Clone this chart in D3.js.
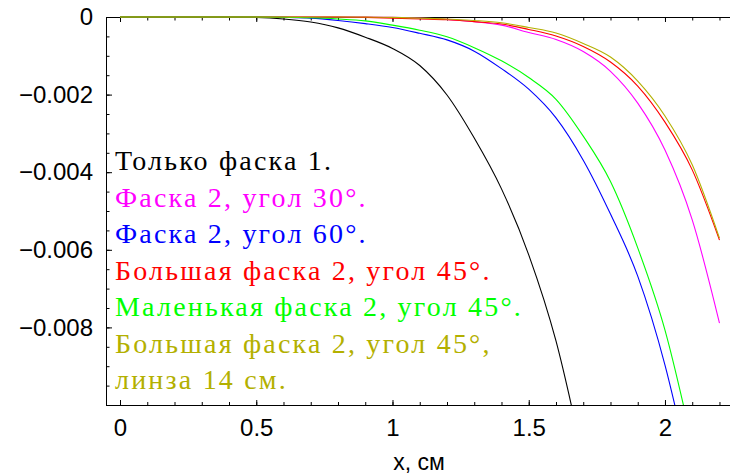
<!DOCTYPE html>
<html><head><meta charset="utf-8">
<script src="https://cdn.jsdelivr.net/npm/d3@7"></script>
<style>html,body{margin:0;padding:0;background:#fff;}svg{display:block;}
.legend text{font-family:"Liberation Serif","Tinos","Times New Roman",Times,"DejaVu Serif","Noto Serif",serif;}
</style>
</head><body>
<svg id="chart" width="730" height="475"></svg>
<script>
// ---- data ----
const xs = [0,0.1,0.2,0.3,0.4,0.5,0.6,0.7,0.8,0.9,1.0,1.1,1.2,1.3,1.4,1.5,1.6,1.7,1.8,1.9,2.0,2.1,2.2];
const only1     = [0,0,0,0,0,-0.00001,-0.00005,-0.00013,-0.00028,-0.00052,-0.00081,-0.00125,-0.00201,-0.00312,-0.00443,-0.00613,-0.00835,-0.0114,null,null,null,null,null];
const angle30   = [0,0,0,0,0,0,0,0,0,0,-0.00001,-0.00003,-0.00006,-0.00012,-0.00021,-0.0004,-0.00058,-0.00089,-0.0014,-0.00222,-0.00343,-0.00523,-0.00789];
const angle60   = [0,0,0,0,0,0,-0.00001,-0.00003,-0.00009,-0.00017,-0.00027,-0.00042,-0.00059,-0.00088,-0.00133,-0.00186,-0.0026,-0.00369,-0.00508,-0.00668,-0.00897,-0.012,null];
const big45     = [0,0,0,0,0,0,0,0,0,-0.00001,-0.00003,-0.00005,-0.00007,-0.00012,-0.00018,-0.00032,-0.00049,-0.00076,-0.00116,-0.00178,-0.00271,-0.00394,-0.00575];
const small45   = [0,0,0,0,0,0,-0.000005,-0.00002,-0.00005,-0.0001,-0.00021,-0.00034,-0.00051,-0.00079,-0.00113,-0.00156,-0.00212,-0.00307,-0.00424,-0.00595,-0.00807,-0.011,null];
const big45lens = [0,0,0,0,0,0,0,0,0,0,-0.00001,-0.00003,-0.00005,-0.00009,-0.00015,-0.00027,-0.00041,-0.00068,-0.00103,-0.00165,-0.00255,-0.00381,-0.0057];
const seriesValues = [only1, angle30, angle60, big45, small45, big45lens];
const legendLines = ["Только фаска 1.","Фаска 2, угол 30°.","Фаска 2, угол 60°.","Большая фаска 2, угол 45°.","Маленькая фаска 2, угол 45°.","Большая фаска 2, угол 45°,","линза 14 см."];
const legendSeries = [0,1,2,3,4,5,5];
const xTickLabels = [0,0.5,1,1.5,2];
const xMinorTicks = d3.range(0,23).map(i=>i/10);
const yTickLabels = [0,-0.002,-0.004,-0.006,-0.008];
const yMinorTicks = d3.range(0,21).map(i=>-i*0.0005);
const xTitle = "x, см";
// ---- styles ----
const colors = ["#000000","#ff00ff","#0000ff","#ff0000","#00ff00","#b3b000"];

const svg = d3.select("#chart");
const L=106, R=730, T=17, B=405;
const x = d3.scaleLinear().domain([-0.0514,2.2386]).range([L,R]);
const y = d3.scaleLinear().domain([-0.01,0]).range([B,T]);

svg.append("clipPath").attr("id","clip").append("rect")
  .attr("x",L).attr("y",T-2).attr("width",R-L).attr("height",B-T+2);

const fontSans = "'Liberation Sans', Arial, sans-serif";
const fmt = d3.format("~g");
function styleAxis(sel){
  sel.selectAll("path.domain").attr("stroke","#000").attr("stroke-width",1);
  sel.selectAll(".tick line").attr("stroke","#000").attr("stroke-width",1);
  sel.selectAll("text").attr("font-family",fontSans).attr("font-size",24).attr("fill","#000");
}
// top frame line + ticks
const gt = svg.append("g").attr("transform",`translate(0,${T})`)
  .call(d3.axisTop(x).tickValues(xMinorTicks).tickSize(-3.5).tickSizeOuter(0).tickFormat(""));
styleAxis(gt);
const gt2 = svg.append("g").attr("transform",`translate(0,${T})`)
  .call(d3.axisTop(x).tickValues(xTickLabels).tickSize(-5).tickFormat(""));
gt2.select("path.domain").remove();
styleAxis(gt2);

// curves
const line = d3.line().defined(d=>d[1]!==null).x(d=>x(d[0])).y(d=>y(d[1])).curve(d3.curveMonotoneX);
const g = svg.append("g").attr("clip-path","url(#clip)");
seriesValues.forEach((vals,i)=>{
  g.append("path").datum(xs.map((xv,j)=>[xv,vals[j]]))
    .attr("d",line).attr("fill","none").attr("stroke",colors[i]).attr("stroke-width",1.1);
});

// left
const gl = svg.append("g").attr("transform",`translate(${L},0)`)
  .call(d3.axisLeft(y).tickValues(yMinorTicks).tickSize(-3.5).tickSizeOuter(0).tickFormat(""));
styleAxis(gl);
const gl2 = svg.append("g").attr("transform",`translate(${L},0)`)
  .call(d3.axisLeft(y).tickValues(yTickLabels).tickSize(-6).tickPadding(13).tickFormat(fmt));
gl2.select("path.domain").remove();
styleAxis(gl2);
// bottom
const gb = svg.append("g").attr("transform",`translate(0,${B})`)
  .call(d3.axisBottom(x).tickValues(xMinorTicks).tickSize(-3).tickSizeOuter(0).tickFormat(""));
styleAxis(gb);
const gb2 = svg.append("g").attr("transform",`translate(0,${B})`)
  .call(d3.axisBottom(x).tickValues(xTickLabels).tickSize(-5).tickPadding(14).tickFormat(fmt));
gb2.select("path.domain").remove();
styleAxis(gb2);

// axis title
svg.append("text").attr("x",419).attr("y",470).attr("text-anchor","middle")
  .attr("font-family",fontSans).attr("font-size",23).attr("fill","#000").text(xTitle);

// legend
svg.append("g").attr("class","legend").selectAll("text").data(legendLines).join("text")
  .attr("x",115).attr("y",(d,i)=>170+i*36.5)
  .attr("font-size",28).attr("letter-spacing",2.2)
  .attr("fill",(d,i)=>colors[legendSeries[i]]).text(d=>d);
</script>
</body></html>
